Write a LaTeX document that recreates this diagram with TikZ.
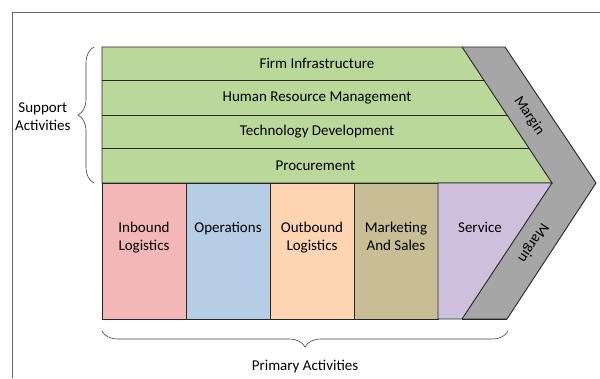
\documentclass[tikz,border=0pt]{standalone}
\usepackage{fontspec}
\setmainfont{Carlito}
\usetikzlibrary{decorations.pathreplacing}
\definecolor{supgreen}{RGB}{187,216,155}
\definecolor{inpink}{RGB}{244,183,183}
\definecolor{opblue}{RGB}{181,205,229}
\definecolor{outpeach}{RGB}{253,213,178}
\definecolor{mktan}{RGB}{200,190,150}
\definecolor{servlav}{RGB}{206,191,220}
\definecolor{marggray}{RGB}{166,166,166}
\tikzset{
  cell/.style={draw=black!85, line width=0.9pt},
  lbl/.style={font=\fontsize{15}{18}\selectfont, align=center},
  brc/.style={decorate, decoration={brace, amplitude=16pt}, draw=black!75, line width=0.6pt}
}
\begin{document}
\begin{tikzpicture}[x=1pt, y=-1pt]
    \useasboundingbox (0,0) rectangle (600,378);
    \draw[black!60] (12,378) -- (12,12) -- (600,12);
    % margin chevron
    \fill[marggray] (462,47) -- (505,47) -- (596,183) -- (507,319) -- (462,319) -- (552,183) -- cycle;
    \draw[cell] (462,47) -- (505,47) -- (596,183) -- (507,319) -- (462,319);
    % support activities
    \fill[supgreen] (102,47) -- (462,47) -- (552,183) -- (102,183) -- cycle;
    \draw[cell] (102,183) -- (102,47) -- (462,47) -- (552,183) -- cycle;
    \foreach \y/\x in {80/483.8, 115/507, 148/528.8} {
        \draw[cell] (102,\y) -- (\x,\y);
    }
    \foreach \name/\y/\txt in {
        firm/63.5/Firm Infrastructure, hrm/97.5/Human Resource Management,
        tech/131.5/Technology Development, proc/165.5/Procurement
    } {
        \node[lbl] (\name) at (317,\y) {\txt};
    }
    % primary activities
    \foreach \name/\xa/\col/\txt in {
        inb/102/inpink/Inbound\\Logistics, ops/186/opblue/Operations,
        outb/270/outpeach/Outbound\\Logistics, mkt/354/mktan/Marketing\\And Sales
    } {
        \fill[\col] (\xa,183) rectangle ++(84,136);
        \draw[cell] (\xa,183) rectangle ++(84,136);
        \node[lbl, anchor=north] (\name) at (\xa+42,219) {\txt};
    }
    \fill[servlav] (438,183) -- (552,183) -- (462,319) -- (438,319) -- cycle;
    \draw[cell] (438,183) -- (552,183) -- (462,319) -- (438,319) -- cycle;
    \draw[cell] (462,319) -- (507,319);
    \node[lbl, anchor=north] (serv) at (480,219) {Service};
    % margin labels
    \node[lbl, rotate=-56.5] (margtop) at (529,116) {Margin};
    \node[lbl, rotate=-123.5] (margbot) at (533,243) {Margin};
    % braces
    \coordinate (supb) at (94,183);
    \coordinate (supt) at (94,47);
    \draw[brc] (supb) -- (supt);
    \node[lbl, anchor=east] (support) at (74,117) {Support\\Activities};
    \coordinate (prir) at (508,331);
    \coordinate (pril) at (102,331);
    \draw[brc] (prir) -- (pril);
    \node[lbl] (primary) at (305,367) {Primary Activities};
\end{tikzpicture}
\end{document}
